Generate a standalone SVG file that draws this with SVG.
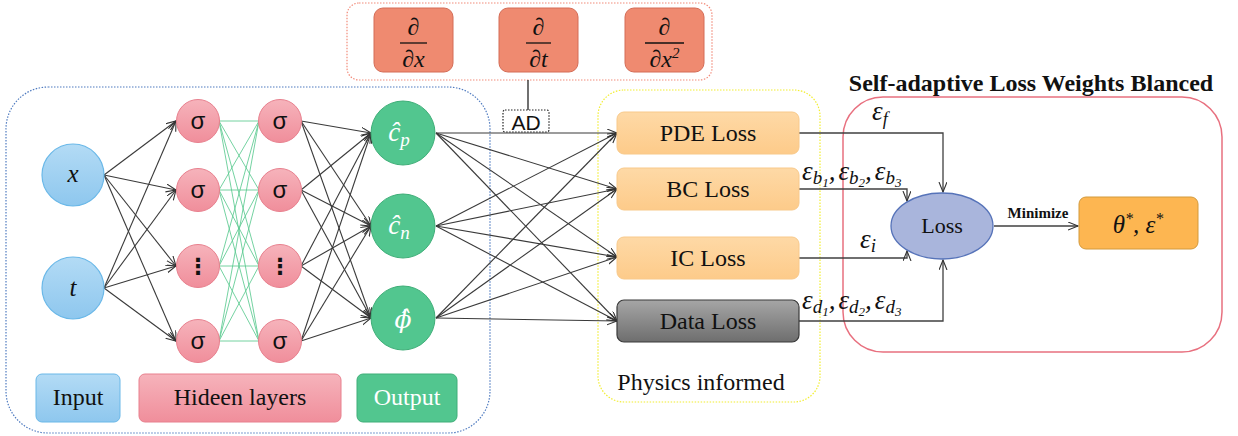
<svg xmlns="http://www.w3.org/2000/svg" width="1238" height="436" viewBox="0 0 1238 436">
<style>
.bk{stroke:#3a3a3a;stroke-width:1.1;fill:none;marker-end:url(#arr);}
.gr{stroke:#5cca90;stroke-width:1;fill:none;opacity:0.85;}
.lo{stroke:#404040;stroke-width:1.3;fill:none;}
.dot{fill:none;stroke-width:1.2;stroke-dasharray:1.5 1.5;}
</style>
<defs>
<marker id="arr" markerUnits="userSpaceOnUse" markerWidth="12" markerHeight="10" refX="10" refY="4" orient="auto">
<path d="M0,0 L10,4 L0,8" fill="none" stroke="#333" stroke-width="1.1"/>
</marker>
<linearGradient id="gBlue" x1="0" y1="0" x2="0" y2="1"><stop offset="0" stop-color="#b3dbf5"/><stop offset="1" stop-color="#8ec7ee"/></linearGradient>
<linearGradient id="gRed" x1="0" y1="0" x2="0" y2="1"><stop offset="0" stop-color="#f6b3bb"/><stop offset="1" stop-color="#f08e9b"/></linearGradient>
<linearGradient id="gOr" x1="0" y1="0" x2="0" y2="1"><stop offset="0" stop-color="#fed9a6"/><stop offset="1" stop-color="#fdcb8a"/></linearGradient>
<linearGradient id="gGray" x1="0" y1="0" x2="0" y2="1"><stop offset="0" stop-color="#a6a6a6"/><stop offset="1" stop-color="#6e6e6e"/></linearGradient>
</defs>
<rect width="1238" height="436" fill="#ffffff"/>

<g id="containers">
<rect class="dot" x="6" y="87" width="484" height="346" rx="42" stroke="#4f7bc0"/>
<rect class="dot" x="347" y="3" width="365" height="77" rx="12" stroke="#f28b7a"/>
<rect class="dot" x="598" y="90" width="222" height="312" rx="26" stroke="#f2ee30"/>
<rect x="843" y="97" width="379" height="255" rx="40" fill="none" stroke="#e8707f" stroke-width="1.5"/>
<text x="1031" y="91" font-family="Liberation Serif, Times New Roman, serif" font-size="24" font-weight="bold" text-anchor="middle" fill="#111">Self-adaptive Loss Weights Blanced</text>
<text x="701" y="390" font-family="Liberation Serif, Times New Roman, serif" font-size="24" text-anchor="middle" fill="#111">Physics informed</text>
</g>

<g id="connectors">
<line class="bk" x1="104" y1="175" x2="176" y2="121"/>
<line class="bk" x1="104" y1="175" x2="176" y2="190"/>
<line class="bk" x1="104" y1="175" x2="176" y2="266"/>
<line class="bk" x1="104" y1="175" x2="176" y2="341"/>
<line class="bk" x1="104" y1="288" x2="176" y2="121"/>
<line class="bk" x1="104" y1="288" x2="176" y2="190"/>
<line class="bk" x1="104" y1="288" x2="176" y2="266"/>
<line class="bk" x1="104" y1="288" x2="176" y2="341"/>
<line class="gr" x1="219" y1="121" x2="259" y2="121"/>
<line class="gr" x1="219" y1="121" x2="259" y2="190"/>
<line class="gr" x1="219" y1="121" x2="259" y2="266"/>
<line class="gr" x1="219" y1="121" x2="259" y2="341"/>
<line class="gr" x1="219" y1="190" x2="259" y2="121"/>
<line class="gr" x1="219" y1="190" x2="259" y2="190"/>
<line class="gr" x1="219" y1="190" x2="259" y2="266"/>
<line class="gr" x1="219" y1="190" x2="259" y2="341"/>
<line class="gr" x1="219" y1="266" x2="259" y2="121"/>
<line class="gr" x1="219" y1="266" x2="259" y2="190"/>
<line class="gr" x1="219" y1="266" x2="259" y2="266"/>
<line class="gr" x1="219" y1="266" x2="259" y2="341"/>
<line class="gr" x1="219" y1="341" x2="259" y2="121"/>
<line class="gr" x1="219" y1="341" x2="259" y2="190"/>
<line class="gr" x1="219" y1="341" x2="259" y2="266"/>
<line class="gr" x1="219" y1="341" x2="259" y2="341"/>
<line class="bk" x1="301" y1="121" x2="371" y2="133"/>
<line class="bk" x1="301" y1="121" x2="371" y2="226"/>
<line class="bk" x1="301" y1="121" x2="371" y2="318"/>
<line class="bk" x1="301" y1="190" x2="371" y2="133"/>
<line class="bk" x1="301" y1="190" x2="371" y2="226"/>
<line class="bk" x1="301" y1="190" x2="371" y2="318"/>
<line class="bk" x1="301" y1="266" x2="371" y2="133"/>
<line class="bk" x1="301" y1="266" x2="371" y2="226"/>
<line class="bk" x1="301" y1="266" x2="371" y2="318"/>
<line class="bk" x1="301" y1="341" x2="371" y2="133"/>
<line class="bk" x1="301" y1="341" x2="371" y2="226"/>
<line class="bk" x1="301" y1="341" x2="371" y2="318"/>
<line class="bk" x1="436" y1="133" x2="617" y2="133"/>
<line class="bk" x1="436" y1="133" x2="617" y2="189"/>
<line class="bk" x1="436" y1="133" x2="617" y2="257"/>
<line class="bk" x1="436" y1="133" x2="617" y2="321"/>
<line class="bk" x1="436" y1="226" x2="617" y2="133"/>
<line class="bk" x1="436" y1="226" x2="617" y2="189"/>
<line class="bk" x1="436" y1="226" x2="617" y2="257"/>
<line class="bk" x1="436" y1="226" x2="617" y2="321"/>
<line class="bk" x1="436" y1="318" x2="617" y2="133"/>
<line class="bk" x1="436" y1="318" x2="617" y2="189"/>
<line class="bk" x1="436" y1="318" x2="617" y2="257"/>
<line class="bk" x1="436" y1="318" x2="617" y2="321"/>
<line x1="528" y1="80" x2="528" y2="110" stroke="#111" stroke-width="1.2"/>
<polyline class="lo" points="799,133 943,133 943,192" marker-end="url(#arr)"/>
<polyline class="lo" points="799,189 907,189 907,201" marker-end="url(#arr)"/>
<polyline class="lo" points="799,258 907,258 907,251" marker-end="url(#arr)"/>
<polyline class="lo" points="799,321 943,321 943,260" marker-end="url(#arr)"/>
<line class="lo" x1="994" y1="226" x2="1078" y2="226" marker-end="url(#arr)"/>
<text x="1038" y="218" font-family="Liberation Serif, Times New Roman, serif" font-size="15" font-weight="bold" text-anchor="middle" fill="#111">Minimize</text>
<text x="872" y="120" font-family="Liberation Serif, Times New Roman, serif" font-style="italic" font-size="27" fill="#111">ε<tspan font-size="18" dy="5">f</tspan></text>
<text x="802" y="180" font-family="Liberation Serif, Times New Roman, serif" font-style="italic" font-size="27" fill="#111">ε<tspan font-size="19" dy="4">b</tspan><tspan font-size="13" dy="3">1</tspan><tspan dy="-7">,</tspan><tspan dx="3">ε</tspan><tspan font-size="19" dy="4">b</tspan><tspan font-size="13" dy="3">2</tspan><tspan dy="-7">,</tspan><tspan dx="3">ε</tspan><tspan font-size="19" dy="4">b</tspan><tspan font-size="13" dy="3">3</tspan></text>
<text x="860" y="248" font-family="Liberation Serif, Times New Roman, serif" font-style="italic" font-size="27" fill="#111">ε<tspan font-size="19" dy="4">i</tspan></text>
<text x="802" y="309" font-family="Liberation Serif, Times New Roman, serif" font-style="italic" font-size="27" fill="#111">ε<tspan font-size="19" dy="4">d</tspan><tspan font-size="13" dy="3">1</tspan><tspan dy="-7">,</tspan><tspan dx="3">ε</tspan><tspan font-size="19" dy="4">d</tspan><tspan font-size="13" dy="3">2</tspan><tspan dy="-7">,</tspan><tspan dx="3">ε</tspan><tspan font-size="19" dy="4">d</tspan><tspan font-size="13" dy="3">3</tspan></text>
</g>

<g id="d-dx">
<rect x="374" y="8" width="79" height="64" rx="9" fill="#ef8a70" stroke="#d46d57" stroke-width="1"/>
<text x="413.5" y="35" font-family="Liberation Serif, Times New Roman, serif" font-style="italic" font-size="24" text-anchor="middle" fill="#111">∂</text>
<line x1="400" y1="43" x2="427" y2="43" stroke="#111" stroke-width="1.3"/>
<text x="413.5" y="67" font-family="Liberation Serif, Times New Roman, serif" font-style="italic" font-size="24" text-anchor="middle" fill="#111">∂x</text>
</g>
<g id="d-dt">
<rect x="499" y="8" width="79" height="64" rx="9" fill="#ef8a70" stroke="#d46d57" stroke-width="1"/>
<text x="538.5" y="35" font-family="Liberation Serif, Times New Roman, serif" font-style="italic" font-size="24" text-anchor="middle" fill="#111">∂</text>
<line x1="526" y1="43" x2="551" y2="43" stroke="#111" stroke-width="1.3"/>
<text x="538.5" y="67" font-family="Liberation Serif, Times New Roman, serif" font-style="italic" font-size="24" text-anchor="middle" fill="#111">∂t</text>
</g>
<g id="d-dx2">
<rect x="625" y="8" width="79" height="64" rx="9" fill="#ef8a70" stroke="#d46d57" stroke-width="1"/>
<text x="664.5" y="35" font-family="Liberation Serif, Times New Roman, serif" font-style="italic" font-size="24" text-anchor="middle" fill="#111">∂</text>
<line x1="645" y1="43" x2="684" y2="43" stroke="#111" stroke-width="1.3"/>
<text x="664.5" y="67" font-family="Liberation Serif, Times New Roman, serif" font-style="italic" font-size="24" text-anchor="middle" fill="#111">∂x<tspan font-size="15" dy="-9">2</tspan></text>
</g>
<g id="ad">
<rect x="503" y="110" width="46" height="22" rx="2" fill="#fff" stroke="#222" stroke-width="1.2" stroke-dasharray="1.5 1.5"/>
<text x="526" y="130" font-family="Liberation Sans, Arial, sans-serif" font-size="21" text-anchor="middle" fill="#111">AD</text>
</g>

<g id="in-x">
<circle cx="73" cy="175" r="31" fill="url(#gBlue)" stroke="#6ab8e8" stroke-width="1.2"/>
<text x="73" y="182" font-family="Liberation Serif, Times New Roman, serif" font-style="italic" font-size="25" text-anchor="middle" fill="#111">x</text>
</g>
<g id="in-t">
<circle cx="73" cy="288" r="31" fill="url(#gBlue)" stroke="#6ab8e8" stroke-width="1.2"/>
<text x="73" y="296" font-family="Liberation Serif, Times New Roman, serif" font-style="italic" font-size="25" text-anchor="middle" fill="#111">t</text>
</g>

<g id="h1-1"><circle cx="198" cy="121" r="21.5" fill="url(#gRed)" stroke="#e8808e" stroke-width="1"/><text x="198" y="129" font-family="Liberation Sans, Arial, sans-serif" font-size="24" text-anchor="middle" fill="#111">σ</text></g>
<g id="h1-2"><circle cx="198" cy="190" r="21.5" fill="url(#gRed)" stroke="#e8808e" stroke-width="1"/><text x="198" y="198" font-family="Liberation Sans, Arial, sans-serif" font-size="24" text-anchor="middle" fill="#111">σ</text></g>
<g id="h1-3"><circle cx="198" cy="266" r="21.5" fill="url(#gRed)" stroke="#e8808e" stroke-width="1"/><text x="198" y="274" font-family="DejaVu Sans, sans-serif" font-size="22" font-weight="bold" text-anchor="middle" fill="#111">⋮</text></g>
<g id="h1-4"><circle cx="198" cy="341" r="21.5" fill="url(#gRed)" stroke="#e8808e" stroke-width="1"/><text x="198" y="349" font-family="Liberation Sans, Arial, sans-serif" font-size="24" text-anchor="middle" fill="#111">σ</text></g>
<g id="h2-1"><circle cx="280" cy="121" r="21.5" fill="url(#gRed)" stroke="#e8808e" stroke-width="1"/><text x="280" y="129" font-family="Liberation Sans, Arial, sans-serif" font-size="24" text-anchor="middle" fill="#111">σ</text></g>
<g id="h2-2"><circle cx="280" cy="190" r="21.5" fill="url(#gRed)" stroke="#e8808e" stroke-width="1"/><text x="280" y="198" font-family="Liberation Sans, Arial, sans-serif" font-size="24" text-anchor="middle" fill="#111">σ</text></g>
<g id="h2-3"><circle cx="280" cy="266" r="21.5" fill="url(#gRed)" stroke="#e8808e" stroke-width="1"/><text x="280" y="274" font-family="DejaVu Sans, sans-serif" font-size="22" font-weight="bold" text-anchor="middle" fill="#111">⋮</text></g>
<g id="h2-4"><circle cx="280" cy="341" r="21.5" fill="url(#gRed)" stroke="#e8808e" stroke-width="1"/><text x="280" y="349" font-family="Liberation Sans, Arial, sans-serif" font-size="24" text-anchor="middle" fill="#111">σ</text></g>

<g id="out-cp"><circle cx="403" cy="133" r="32" fill="#52c68f" stroke="#3fae78" stroke-width="1"/><text x="399" y="141" font-family="Liberation Serif, Times New Roman, serif" font-style="italic" font-size="27" text-anchor="middle" fill="#fff">ĉ<tspan font-size="19" dy="5">p</tspan></text></g>
<g id="out-cn"><circle cx="403" cy="226" r="32" fill="#52c68f" stroke="#3fae78" stroke-width="1"/><text x="399" y="234" font-family="Liberation Serif, Times New Roman, serif" font-style="italic" font-size="27" text-anchor="middle" fill="#fff">ĉ<tspan font-size="19" dy="5">n</tspan></text></g>
<g id="out-phi"><circle cx="403" cy="318" r="32" fill="#52c68f" stroke="#3fae78" stroke-width="1"/><text x="403" y="328" font-family="DejaVu Serif, serif" font-style="italic" font-size="25" text-anchor="middle" fill="#fff">ϕ̂</text></g>

<g id="leg-input"><rect x="36" y="374" width="84" height="48" rx="6" fill="url(#gBlue)" stroke="#6ab8e8" stroke-width="1"/><text x="78" y="405" font-family="Liberation Serif, Times New Roman, serif" font-size="24" text-anchor="middle" fill="#111">Input</text></g>
<g id="leg-hidden"><rect x="139" y="374" width="202" height="48" rx="6" fill="url(#gRed)" stroke="#e8808e" stroke-width="1"/><text x="240" y="405" font-family="Liberation Serif, Times New Roman, serif" font-size="24" text-anchor="middle" fill="#111">Hideen layers</text></g>
<g id="leg-output"><rect x="357" y="374" width="100" height="48" rx="6" fill="#52c68f" stroke="#3fae78" stroke-width="1"/><text x="407" y="405" font-family="Liberation Serif, Times New Roman, serif" font-size="24" text-anchor="middle" fill="#fff">Output</text></g>

<g id="pde"><rect x="617" y="112" width="182" height="42" rx="7" fill="url(#gOr)" stroke="#f8c98a" stroke-width="1"/><text x="708" y="141" font-family="Liberation Serif, Times New Roman, serif" font-size="24" text-anchor="middle" fill="#111">PDE Loss</text></g>
<g id="bc"><rect x="617" y="168" width="182" height="42" rx="7" fill="url(#gOr)" stroke="#f8c98a" stroke-width="1"/><text x="708" y="197" font-family="Liberation Serif, Times New Roman, serif" font-size="24" text-anchor="middle" fill="#111">BC Loss</text></g>
<g id="ic"><rect x="617" y="237" width="182" height="42" rx="7" fill="url(#gOr)" stroke="#f8c98a" stroke-width="1"/><text x="708" y="266" font-family="Liberation Serif, Times New Roman, serif" font-size="24" text-anchor="middle" fill="#111">IC Loss</text></g>
<g id="data"><rect x="617" y="300" width="182" height="42" rx="7" fill="url(#gGray)" stroke="#3a3a3a" stroke-width="1.2"/><text x="708" y="329" font-family="Liberation Serif, Times New Roman, serif" font-size="24" text-anchor="middle" fill="#111">Data Loss</text></g>

<g id="loss"><ellipse cx="942" cy="226" rx="51" ry="33" fill="#a9b5dc" stroke="#5673b9" stroke-width="1.3"/><text x="942" y="233" font-family="Liberation Serif, Times New Roman, serif" font-size="22" text-anchor="middle" fill="#111">Loss</text></g>
<g id="result"><rect x="1079" y="197" width="119" height="52" rx="7" fill="#fdb651" stroke="#d39a3c" stroke-width="1"/><text x="1138" y="233" font-family="Liberation Serif, Times New Roman, serif" font-style="italic" font-size="25" text-anchor="middle" fill="#111">θ<tspan font-size="16" dy="-9">*</tspan><tspan dy="9">, ε</tspan><tspan font-size="16" dy="-9">*</tspan></text></g>
</svg>
